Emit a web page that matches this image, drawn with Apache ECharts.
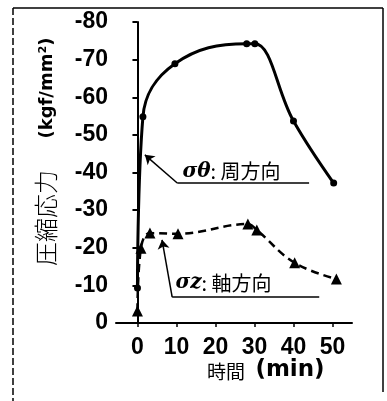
<!DOCTYPE html>
<html>
<head>
<meta charset="utf-8">
<script src="https://cdn.jsdelivr.net/npm/echarts@6/dist/echarts.min.js"></script>
<style>
  html, body { margin: 0; padding: 0; background: #fff; }
  #chart { width: 387px; height: 401px; }
</style>
</head>
<body>
<div id="chart"></div>
<script>
// 周方向 σθ (solid line, circles)
const thetaTime = [0, 1.4, 9.6, 28.0, 30.1, 40.0, 50.3]
const thetaStress = [-9.3, -54.8, -68.9, -74.2, -74.2, -53.7, -37.2]
// 軸方向 σz (dashed line, triangles)
const zTime = [0, 0.9, 3.2, 10.4, 28.3, 30.6, 40.3, 51.0]
const zStress = [-3.2, -19.9, -23.9, -23.7, -26.3, -24.7, -16.0, -11.7]
const xTicks = [0, 10, 20, 30, 40, 50]

const pair = (xs, ys) => xs.map((x, i) => [x, ys[i]])

const labelFont = {
  color: '#000',
  fontFamily: 'Liberation Sans',
  fontWeight: 'bold',
  fontSize: 23
}

const chart = echarts.init(document.getElementById('chart'))

let option = {
  backgroundColor: '#fff',
  animation: false,
  grid: { left: 116, top: 22, width: 236, height: 301 },
  xAxis: {
    type: 'value',
    min: -5.5,
    max: 55,
    axisLine: { lineStyle: { color: '#000', width: 2 } },
    axisTick: { customValues: xTicks, length: 4, lineStyle: { color: '#000', width: 1.5 } },
    axisLabel: Object.assign({ customValues: xTicks, margin: 13 }, labelFont),
    splitLine: { show: false }
  },
  yAxis: {
    type: 'value',
    min: -80,
    max: 0,
    interval: 10,
    inverse: true,
    axisLine: { show: true, lineStyle: { color: '#000', width: 2 } },
    axisTick: { show: true, length: 5, lineStyle: { color: '#000', width: 2 } },
    axisLabel: Object.assign({ margin: 8 }, labelFont),
    splitLine: { show: false }
  },
  series: [
    {
      name: 'σθ',
      type: 'line',
      data: pair(thetaTime, thetaStress),
      smooth: 0.4,
      symbol: 'circle',
      symbolSize: 7,
      itemStyle: { color: '#000' },
      lineStyle: { color: '#000', width: 3 },
      markLine: {
        silent: true,
        symbol: ['none', 'none'],
        symbolSize: 9,
        label: { show: false },
        lineStyle: { color: '#000', width: 1.5, type: 'solid' },
        data: [
          [{ coord: [1.9, -44.7], symbol: 'arrow' }, { coord: [10.2, -37.2] }],
          [{ coord: [10.2, -37.2] }, { coord: [44, -37.2] }]
        ]
      },
      markPoint: {
        silent: true,
        symbol: 'circle',
        symbolSize: 1,
        itemStyle: { color: 'rgba(0,0,0,0)' },
        label: {
          show: true,
          position: 'right',
          distance: 0,
          formatter: '{s|σθ}{c|: 周方向}',
          rich: {
            s: { fontFamily: 'DejaVu Serif', fontStyle: 'italic', fontWeight: 'bold', fontSize: 20, color: '#000' },
            c: { fontFamily: 'Noto Sans CJK JP', fontSize: 20, color: '#000' }
          }
        },
        data: [{ coord: [11.4, -40.2] }]
      }
    },
    {
      name: 'σz',
      type: 'line',
      data: pair(zTime, zStress),
      smooth: 0.4,
      symbol: 'triangle',
      symbolSize: 11,
      itemStyle: { color: '#000' },
      lineStyle: { color: '#000', width: 2.5, type: [8, 5] },
      markLine: {
        silent: true,
        symbol: ['none', 'none'],
        symbolSize: 9,
        label: { show: false },
        lineStyle: { color: '#000', width: 1.5, type: 'solid' },
        data: [
          [{ coord: [6.3, -22.1], symbol: 'arrow' }, { coord: [8.9, -6.9] }],
          [{ coord: [8.9, -6.9] }, { coord: [46.6, -6.9] }]
        ]
      },
      markPoint: {
        silent: true,
        symbol: 'circle',
        symbolSize: 1,
        itemStyle: { color: 'rgba(0,0,0,0)' },
        label: {
          show: true,
          position: 'right',
          distance: 0,
          formatter: '{s|σz}{c|: 軸方向}',
          rich: {
            s: { fontFamily: 'DejaVu Serif', fontStyle: 'italic', fontWeight: 'bold', fontSize: 20, color: '#000' },
            c: { fontFamily: 'Noto Sans CJK JP', fontSize: 20, color: '#000' }
          }
        },
        data: [{ coord: [9.6, -10.6] }]
      }
    }
  ],
  graphic: [
    // frame of the scanned figure
    { type: 'line', shape: { x1: 13, y1: 8, x2: 383, y2: 8 }, style: { stroke: '#000', lineWidth: 1.5 } },
    { type: 'line', shape: { x1: 383, y1: 8, x2: 383, y2: 392 }, style: { stroke: '#000', lineWidth: 1.5 } },
    { type: 'line', shape: { x1: 13, y1: 8, x2: 13, y2: 401 }, style: { stroke: '#000', lineWidth: 1.5, lineDash: [7, 3] } },
    // y axis name
    {
      type: 'text', x: 46, y: 218, rotation: Math.PI / 2,
      style: { text: '圧縮応力', fontFamily: 'Noto Sans CJK JP', fontWeight: 300, fontSize: 24, fill: '#000', align: 'center', verticalAlign: 'middle' }
    },
    {
      type: 'text', x: 47, y: 88, rotation: Math.PI / 2,
      style: { text: '(kgf/mm²)', fontFamily: 'DejaVu Sans', fontWeight: 'bold', fontSize: 18, fill: '#000', align: 'center', verticalAlign: 'middle' }
    },
    // x axis name
    {
      type: 'text', x: 226, y: 372,
      style: { text: '時間', fontFamily: 'Noto Sans CJK JP', fontSize: 19, fill: '#000', align: 'center', verticalAlign: 'middle' }
    },
    {
      type: 'text', x: 290, y: 370,
      style: { text: '(min)', fontFamily: 'DejaVu Sans', fontWeight: 'bold', fontSize: 23, fill: '#000', align: 'center', verticalAlign: 'middle' }
    }
  ]
}

chart.setOption(option)
</script>
</body>
</html>
